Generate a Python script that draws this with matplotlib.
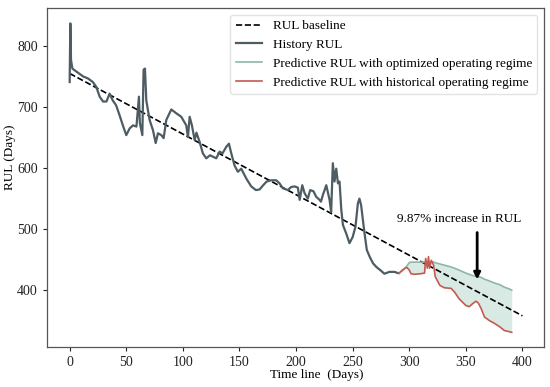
"""
RUL chart: history, baseline and two predictive RUL curves.
"""

import numpy as np
import matplotlib
matplotlib.use("Agg")
import matplotlib.pyplot as plt

plt.rcParams.update({
    "font.family": ["Liberation Serif", "DejaVu Serif"],
    "font.size": 9.5,
})

# ---- data ----
baseline_days = [0, 400]
baseline_rul = [755, 358]

history_days = [0, 0.6, 1.2, 2.4, 6, 12, 16, 20.5, 23.5, 26.5, 29.5, 32.5, 35.3, 38, 41, 44,
                47, 50, 53, 56, 59, 61.2, 62, 64.2, 65.3, 66.5, 67.7, 70.6, 73.6, 76, 78, 81,
                83, 85.4, 89.8, 94, 98.6, 103, 104.5, 106, 108, 110.4, 112, 114.8, 117.7,
                120.7, 124, 129.5, 132.5, 135, 138.4, 140.7, 142.8, 145.7, 148.6, 151.6, 156,
                160.4, 164.5, 167.8, 171, 174, 178, 182.5, 185.4, 188.3, 192.8, 195.7, 198.7,
                201.6, 203.2, 205.5, 207.5, 210.4, 212.5, 215.4, 217.8, 220.8, 222, 223.7,
                226.7, 229.6, 231, 232.5, 234, 235.5, 237, 238.4, 240, 241.4, 244.3, 247.2,
                250, 252.5, 254.6, 256, 257.5, 260.5, 262.5, 265, 268, 271, 275, 278, 282.5,
                287, 290, 291]
history_rul = [741, 837, 777, 763, 758, 750, 747, 741, 733, 717, 709, 709, 722, 711, 703, 687,
               670, 654, 665, 670, 668, 717, 674, 654, 761, 763, 711, 679, 662, 641, 657, 654,
               649, 679, 696, 690, 684, 670, 651, 684, 670, 646, 658, 643, 624,
               616, 621, 616, 627, 624, 635, 640, 624, 604, 594, 599, 583,
               570, 564, 565, 572, 578, 580, 580, 575, 567, 564, 569, 570,
               568, 548, 572, 559, 550, 564, 562, 553, 548, 545, 556,
               572, 548, 528, 608, 578, 599, 575, 578, 531, 507, 493, 477,
               487, 504, 542, 550, 539, 493, 466, 455, 444, 438, 432, 427, 430,
               430, 428, 428]

pred_days = [291, 294, 297, 298, 300, 301.5, 304.5, 310, 313.5, 314.5, 316, 317, 318, 319.5,
             321.5, 323, 327, 331, 337, 340, 344, 350, 353, 356, 359, 361, 363.5, 366.5, 371,
             375, 380, 384, 388.5, 390.5]
optimized_rul = [428, 432, 437, 440, 445, 446, 446, 446, 446, 446, 446, 446, 446, 446,
                 446, 445, 443, 441, 438, 436, 433, 428, 426, 424, 423, 422, 421, 418, 415,
                 412, 409, 405, 402, 400]
historical_rul = [428, 433, 437, 437, 433, 427, 426, 427, 428, 452, 436, 455, 436, 449,
                  441, 422, 408, 404, 403, 397, 386, 375, 373, 378, 382, 379, 370, 356, 350,
                  346, 340, 334, 332, 331]

fig = plt.figure(figsize=(5.5, 3.87), dpi=100)
ax = fig.add_axes([0.0855, 0.1034, 0.9035, 0.8756])

ax.plot(baseline_days, baseline_rul, "--", color="black", lw=1.2, label="RUL baseline")
ax.plot(history_days, history_rul, color="#4e5c64", lw=1.6, label="History RUL")
ax.fill_between(pred_days, optimized_rul, historical_rul, color="#d8eae3", lw=0)
ax.plot(pred_days, optimized_rul, color="#8bb8a5", lw=1.2,
        label="Predictive RUL with optimized operating regime")
ax.plot(pred_days, historical_rul, color="#c45a50", lw=1.2,
        label="Predictive RUL with historical operating regime")

ax.annotate("", xy=(360, 413), xytext=(360, 499),
            arrowprops=dict(arrowstyle="-|>,head_length=0.4,head_width=0.2",
                            color="black", lw=2.0))
ax.text(344, 516, "9.87% increase in RUL", ha="center", va="center", fontsize=9.5)

ax.set_xlim(-20, 419)
ax.set_ylim(307, 862)
ax.set_xticks(np.arange(0, 401, 50))
ax.set_yticks(np.arange(400, 801, 100))
ax.set_xlabel("Time line  (Days)", fontsize=9.5)
ax.set_ylabel("RUL (Days)", fontsize=9.5)
ax.xaxis.set_label_coords(0.543, -0.064)
ax.yaxis.set_label_coords(-0.062, 0.559)
for s in ax.spines.values():
    s.set_color("#555555")
    s.set_linewidth(0.9)
ax.tick_params(colors="#222222", length=3, width=0.8, labelsize=10)

leg = ax.legend(loc="upper right", fontsize=9.5, frameon=True, borderaxespad=0.5)
leg.get_frame().set_edgecolor("#dddddd")

fig.savefig("out.png", dpi=100)
